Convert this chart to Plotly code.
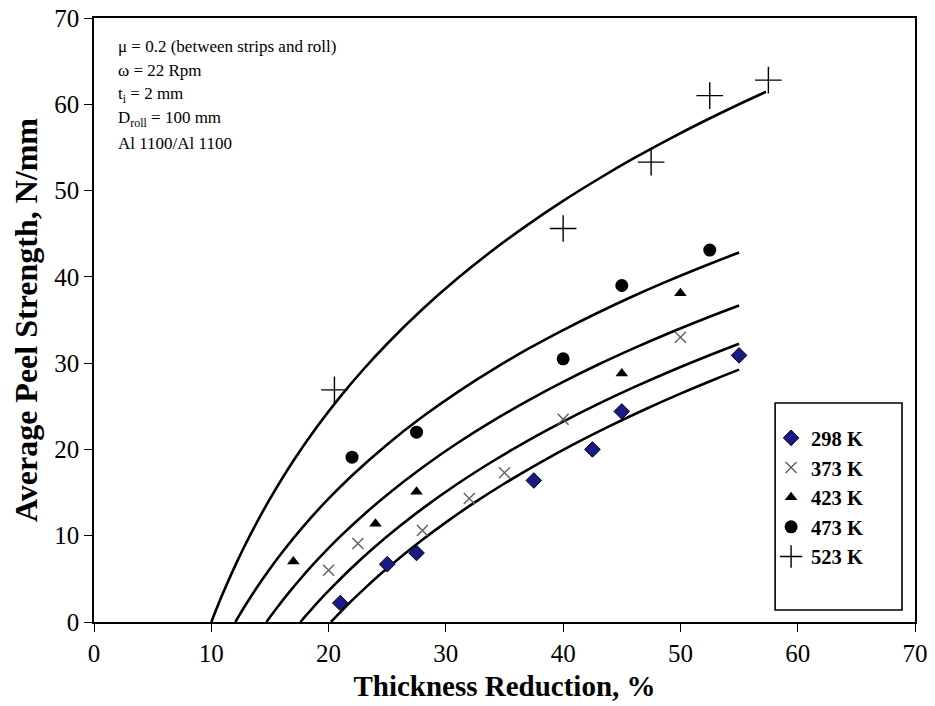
import plotly.graph_objects as go

x_298 = [21, 25, 27.5, 37.5, 42.5, 45, 55]
y_298 = [2.2, 6.7, 8.0, 16.4, 20.0, 24.4, 30.9]

x_373 = [20, 22.5, 28, 32, 35, 40, 50]
y_373 = [6.0, 9.1, 10.6, 14.3, 17.3, 23.5, 33.0]

x_423 = [17, 24, 27.5, 45, 50]
y_423 = [7.0, 11.4, 15.1, 28.8, 38.1]

x_473 = [22, 27.5, 40, 45, 52.5]
y_473 = [19.1, 22.0, 30.5, 39.0, 43.1]

x_523 = [20.5, 40, 47.5, 52.5, 57.5]
y_523 = [26.9, 45.6, 53.3, 61.0, 62.8]

# ---- fitted curves ----
cx_523 = [10, 10.5, 11, 12, 13, 14, 15, 17, 19, 21, 23, 25, 28, 31, 34, 37, 40, 43, 46, 49, 52, 55, 57.3]
cy_523 = [0, 1.72, 3.35, 6.42, 9.24, 11.84, 14.27, 18.68, 22.59, 26.12, 29.32, 32.25, 36.24, 39.83,
          43.08, 46.05, 48.80, 51.34, 53.72, 55.94, 58.03, 60.01, 61.45]

cx_473 = [12.05, 12.5, 13, 14, 15, 16, 18, 20, 22, 25, 28, 31, 34, 37, 40, 43, 46, 49, 52, 55]
cy_473 = [0, 1.03, 2.14, 4.23, 6.18, 8.00, 11.32, 14.29, 16.98, 20.58, 23.78, 26.65, 29.25, 31.64,
          33.83, 35.87, 37.78, 39.56, 41.23, 42.82]

cx_423 = [14.7, 15.2, 15.7, 16.7, 17.7, 19, 21, 23, 25, 28, 31, 34, 37, 40, 43, 46, 49, 52, 55]
cy_423 = [0, 0.93, 1.83, 3.55, 5.16, 7.13, 9.92, 12.44, 14.76, 17.91, 20.74, 23.31, 25.66, 27.83,
          29.84, 31.71, 33.47, 35.12, 36.68]

cx_373 = [17.6, 18.1, 18.6, 19.6, 20.6, 22, 24, 26, 28, 31, 34, 37, 40, 43, 46, 49, 52, 55]
cy_373 = [0, 0.79, 1.56, 3.05, 4.45, 6.32, 8.78, 11.04, 13.14, 16.02, 18.63, 21.03, 23.23, 25.28,
          27.19, 28.98, 30.66, 32.25]

cx_298 = [20.2, 20.7, 21.2, 22.2, 23.2, 24.5, 26, 28, 30, 32.5, 35, 38, 41, 44, 47, 50, 53, 55]
cy_298 = [0, 0.71, 1.41, 2.76, 4.04, 5.64, 7.37, 9.53, 11.55, 13.89, 16.05, 18.45, 20.67, 22.73,
          24.66, 26.47, 28.17, 29.25]

tick_vals = [0, 10, 20, 30, 40, 50, 60, 70]
tick_text = ["0", "10", "20", "30", "40", "50", "60", "70"]

info_lines = [
    "\u03bc = 0.2 (between strips and roll)",
    "\u03c9 = 22 Rpm",
    "t<sub>i</sub> = 2 mm",
    "D<sub>roll</sub> = 100 mm",
    "Al 1100/Al 1100",
]

FONT = "Liberation Serif, Times New Roman, serif"

fig = go.Figure()

for cx, cy in [(cx_523, cy_523), (cx_473, cy_473), (cx_423, cy_423), (cx_373, cy_373), (cx_298, cy_298)]:
    fig.add_trace(go.Scatter(x=cx, y=cy, mode="lines", line=dict(color="black", width=2.6, shape="spline"),
                             showlegend=False, hoverinfo="skip"))

fig.add_trace(go.Scatter(x=x_298, y=y_298, mode="markers", name="<b>298 K</b>",
                         marker=dict(symbol="diamond", size=12, color="#1a1a86",
                                     line=dict(color="black", width=1))))
fig.add_trace(go.Scatter(x=x_373, y=y_373, mode="markers", name="<b>373 K</b>",
                         marker=dict(symbol="x-thin-open", size=11, color="#606060",
                                     line=dict(color="#606060", width=1.4))))
fig.add_trace(go.Scatter(x=x_423, y=y_423, mode="markers", name="<b>423 K</b>",
                         marker=dict(symbol="triangle-up", size=11, color="black")))
fig.add_trace(go.Scatter(x=x_473, y=y_473, mode="markers", name="<b>473 K</b>",
                         marker=dict(symbol="circle", size=13, color="black")))
fig.add_trace(go.Scatter(x=x_523, y=y_523, mode="markers", name="<b>523 K</b>",
                         marker=dict(symbol="cross-thin-open", size=19, color="black",
                                     line=dict(color="black", width=1.4))))

axis_common = dict(
    range=[0, 70], tickvals=tick_vals, ticktext=tick_text, automargin=False,
    showgrid=False, zeroline=False, showline=True, linecolor="black", linewidth=1.6,
    mirror=True, ticks="outside", ticklen=8, tickwidth=1.4, tickcolor="black",
    tickfont=dict(family=FONT, size=25, color="black"), ticklabeloverflow="allow",
)

fig.update_xaxes(**axis_common,
                 title=dict(text="<b>Thickness Reduction, %</b>", font=dict(family=FONT, size=29, color="black"),
                            standoff=10))
fig.update_yaxes(**axis_common,
                 title=dict(text="<b>Average Peel Strength, N/mm</b>", font=dict(family=FONT, size=32, color="black"),
                            standoff=10))

# legend box
fig.add_shape(type="rect", xref="paper", yref="paper", x0=0.8296, x1=0.9842, y0=0.0199, y1=0.3626,
              line=dict(color="black", width=1.6), fillcolor="white", layer="below")

for i, t in enumerate(info_lines):
    fig.add_annotation(xref="paper", yref="paper", x=0.0262, y=(622 - (47 + 24 * i)) / 604,
                       xanchor="left", yanchor="middle", text=t, showarrow=False,
                       font=dict(family=FONT, size=17, color="black"))

# page body has an 8px margin, so the figure is sized/offset to land on the reference pixels
fig.update_layout(
    width=927, height=698,
    margin=dict(l=85.5, r=20, t=10, b=84),
    paper_bgcolor="white", plot_bgcolor="white",
    legend=dict(x=0.8247, y=0.3377, xanchor="left", yanchor="top",
                bgcolor="rgba(0,0,0,0)", borderwidth=0,
                font=dict(family=FONT, size=20.5, color="black"),
                tracegroupgap=0, itemwidth=30),
    font=dict(family=FONT),
)

fig.write_html("out.html")
